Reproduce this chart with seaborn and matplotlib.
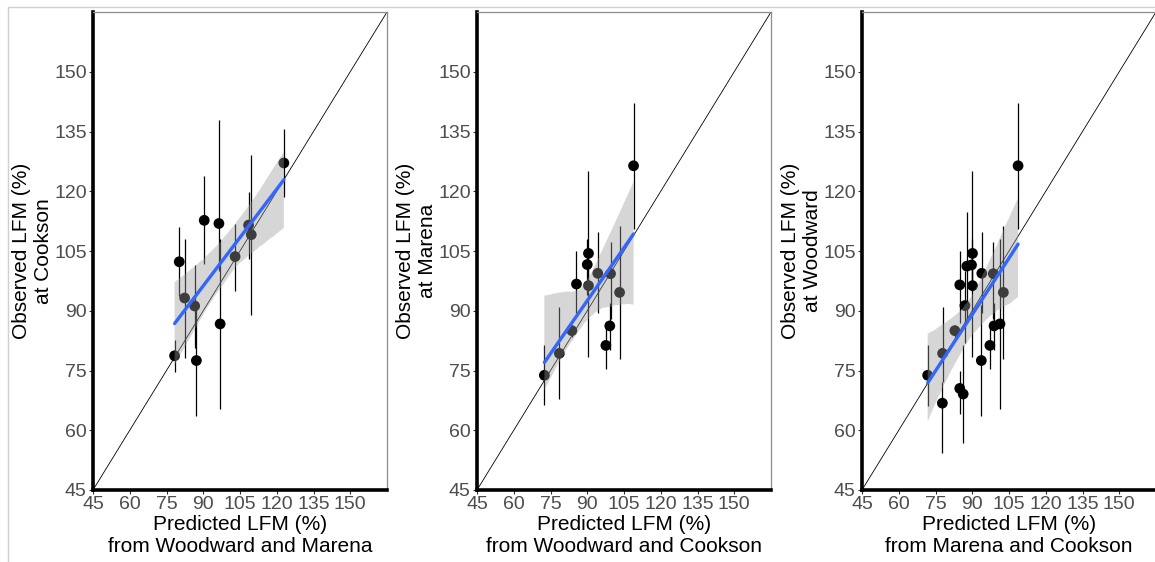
import numpy as np
import pandas as pd
import matplotlib
matplotlib.use("Agg")
import matplotlib.pyplot as plt
import seaborn as sns
from matplotlib.collections import PolyCollection
from matplotlib.lines import Line2D

# ---- data ----
ticks = [45, 60, 75, 90, 105, 120, 135, 150]

pred_cookson = [78.3, 80.2, 82.4, 86.5, 87.2, 90.4, 96.4, 96.9, 103.0, 108.5, 109.6, 122.9]
obs_cookson = [78.7, 102.3, 93.2, 91.2, 77.5, 112.7, 111.9, 86.7, 103.6, 111.5, 109.1, 127.1]
lo_cookson = [74.7, 93.6, 78.2, 80.6, 63.7, 101.7, 100.0, 65.4, 95.0, 103.0, 89.0, 118.5]
hi_cookson = [82.7, 111.0, 108.0, 101.5, 91.1, 123.9, 138.0, 108.0, 111.8, 119.9, 129.2, 135.6]

pred_marena = [72.5, 78.6, 83.7, 85.6, 90.0, 90.5, 90.5, 94.3, 97.6, 99.2, 99.5, 103.2, 108.9]
obs_marena = [73.8, 79.3, 85.0, 96.7, 101.6, 104.4, 96.3, 99.4, 81.3, 86.2, 99.3, 94.6, 126.4]
lo_marena = [66.4, 67.8, 83.5, 89.4, 94.0, 95.0, 78.5, 89.4, 75.3, 80.2, 88.0, 77.9, 110.5]
hi_marena = [81.4, 90.9, 86.5, 105.0, 108.0, 125.2, 104.0, 109.7, 87.3, 92.0, 107.2, 111.2, 142.2]

pred_woodward = [71.8, 77.9, 77.8, 82.9, 84.9, 84.9, 86.3, 87.0, 87.8, 89.7, 90.1, 90.1,
                 93.7, 93.9, 97.2, 98.9, 98.6, 101.3, 102.7, 108.7]
obs_woodward = [73.8, 79.3, 66.8, 85.0, 96.5, 70.5, 69.1, 91.3, 101.2, 101.5, 104.4, 96.3,
                77.5, 99.4, 81.3, 86.2, 99.3, 86.7, 94.6, 126.4]
lo_woodward = [66.2, 72.0, 54.4, 83.5, 87.0, 64.0, 56.8, 82.0, 88.0, 95.0, 95.0, 78.5,
               63.5, 89.4, 75.3, 80.2, 88.0, 65.4, 77.9, 110.5]
hi_woodward = [81.4, 90.9, 72.0, 86.5, 105.0, 74.9, 81.4, 100.0, 114.9, 108.0, 125.2, 104.0,
               91.5, 109.7, 87.3, 92.0, 107.2, 108.0, 111.2, 142.2]

sites = ["Cookson", "Marena", "Woodward"]
sources = ["Woodward and Marena", "Woodward and Cookson", "Marena and Cookson"]

panels = [
    (pred_cookson, obs_cookson, lo_cookson, hi_cookson),
    (pred_marena, obs_marena, lo_marena, hi_marena),
    (pred_woodward, obs_woodward, lo_woodward, hi_woodward),
]

# ---- style ----
sns.set_theme(style="white")
plt.rcParams['font.family'] = ['Liberation Sans', 'DejaVu Sans']

W, H = 1155, 562
fig = plt.figure(figsize=(W / 100, H / 100), dpi=100)
lefts = [93, 477, 862]

for i, (pred, obs, lo, hi) in enumerate(panels):
    ax = fig.add_axes([lefts[i] / W, 72 / H, 294 / W, 478 / H])
    ax.set_facecolor("white")
    df = pd.DataFrame({"pred": pred, "obs": obs, "lo": lo, "hi": hi})

    ax.plot([45, 165], [45, 165], color="black", lw=0.6, zorder=1)
    ax.vlines(df["pred"], df["lo"], df["hi"], color="black", lw=0.9, zorder=2)
    sns.scatterplot(data=df, x="pred", y="obs", ax=ax, color="black", s=60,
                    edgecolor="none", zorder=2.5, legend=False)
    sns.regplot(data=df, x="pred", y="obs", ax=ax, scatter=False, ci=95, seed=3,
                n_boot=2000, color="#3366FF", line_kws={"lw": 2.4, "zorder": 4})
    for c in ax.collections:
        if isinstance(c, PolyCollection):
            c.set_facecolor("#999999")
            c.set_alpha(0.4)
            c.set_edgecolor("none")
            c.set_zorder(3)

    ax.set_xlim(45, 165)
    ax.set_ylim(45, 165)
    ax.set_xticks(ticks)
    ax.set_yticks(ticks)
    ax.set_xticklabels([str(t) for t in ticks])
    ax.set_yticklabels([str(t) for t in ticks])
    ax.tick_params(axis="both", which="major", labelsize=14, labelcolor="#4D4D4D",
                   length=3, width=0.8, color="#333333", direction="out", pad=1.5,
                   bottom=True, left=True)
    for side in ["left", "bottom"]:
        ax.spines[side].set_color("black")
        ax.spines[side].set_linewidth(2.6)
    for side in ["top", "right"]:
        ax.spines[side].set_color("#8c8c8c")
        ax.spines[side].set_linewidth(0.9)
    ax.set_xlabel(f"Predicted LFM (%)\nfrom {sources[i]}", fontsize=15,
                  color="black", labelpad=1, linespacing=1.2)
    ax.set_ylabel(f"Observed LFM (%)\nat {sites[i]}", fontsize=15,
                  color="black", labelpad=1, linespacing=1.2)
    ax.grid(False)

# light frame lines like the reference screenshot border
fig.add_artist(Line2D([8 / W, 1], [1 - 6.5 / H, 1 - 6.5 / H], color="#d0d0d0", lw=1,
                      transform=fig.transFigure))
fig.add_artist(Line2D([8 / W, 8 / W], [0, 1 - 6.5 / H], color="#d0d0d0", lw=1,
                      transform=fig.transFigure))

fig.savefig("out.png", dpi=100)
